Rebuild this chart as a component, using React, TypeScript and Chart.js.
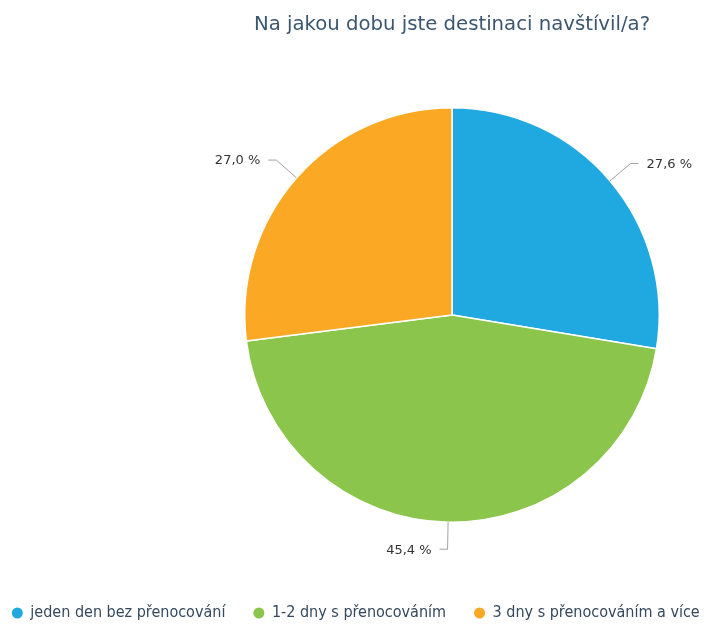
import React, { useEffect, useRef } from 'react';
import { Chart, registerables } from 'chart.js';

Chart.register(...registerables);

const TITLE = 'Na jakou dobu jste destinaci navštívil/a?';
const categories = ['jeden den bez přenocování', '1-2 dny s přenocováním', '3 dny s přenocováním a více'];
const values = [27.6, 45.4, 27.0];
const valueLabels = ['27,6 %', '45,4 %', '27,0 %'];
const colors = ['#20a9e1', '#8cc54b', '#fba925'];

const W = 704;
const H = 624;

const decorPlugin = {
  id: 'decor',
  afterDraw(chart: any) {
    const ctx = chart.ctx as CanvasRenderingContext2D;
    const area = chart.chartArea;
    ctx.save();

    // Title
    ctx.font = '19.7px "DejaVu Sans", sans-serif';
    ctx.fillStyle = '#3b566f';
    ctx.textAlign = 'center';
    ctx.textBaseline = 'middle';
    ctx.fillText(TITLE, (area.left + area.right) / 2, 25);

    // Slice labels with leader lines
    const meta = chart.getDatasetMeta(0);
    meta.data.forEach((arc: any, i: number) => {
      const p = arc.getProps(['x', 'y', 'startAngle', 'endAngle', 'outerRadius'], true);
      const mid = (p.startAngle + p.endAngle) / 2;
      const c = Math.cos(mid);
      const s = Math.sin(mid);
      const r = p.outerRadius;
      const x0 = p.x + c * r;
      const y0 = p.y + s * r;
      const x1 = p.x + c * (r + 27);
      const y1 = p.y + s * (r + 27);
      const dir = c >= 0 ? 1 : -1;
      const x2 = x1 + dir * 8;
      ctx.beginPath();
      ctx.moveTo(x0, y0);
      ctx.lineTo(x1, y1);
      ctx.lineTo(x2, y1);
      ctx.strokeStyle = '#a0a0a0';
      ctx.lineWidth = 1;
      ctx.lineJoin = 'round';
      ctx.stroke();
      ctx.font = '13px "DejaVu Sans", sans-serif';
      ctx.fillStyle = '#333333';
      ctx.textBaseline = 'middle';
      ctx.textAlign = dir > 0 ? 'left' : 'right';
      ctx.fillText(valueLabels[i], x2 + dir * 8, y1 + 1);
    });

    // Legend
    ctx.font = '16px "DejaVu Sans Condensed", "DejaVu Sans", sans-serif';
    const gap = 28.5;
    const widths = categories.map((t) => 10 + 8 + ctx.measureText(t).width);
    const total = widths.reduce((a, b) => a + b, 0) + gap * (categories.length - 1);
    let x = 356 - total / 2;
    const ly = 613;
    categories.forEach((t, i) => {
      ctx.beginPath();
      ctx.arc(x + 5, ly, 5.5, 0, Math.PI * 2);
      ctx.fillStyle = colors[i];
      ctx.fill();
      ctx.fillStyle = '#34495e';
      ctx.textAlign = 'left';
      ctx.textBaseline = 'middle';
      ctx.fillText(t, x + 18, ly);
      x += widths[i] + gap;
    });

    ctx.restore();
  },
};

export default function App() {
  const ref = useRef<HTMLCanvasElement | null>(null);

  useEffect(() => {
    if (!ref.current) return;
    const chart = new Chart(ref.current, {
      type: 'pie',
      data: {
        labels: categories,
        datasets: [
          {
            data: values,
            backgroundColor: colors,
            borderColor: '#ffffff',
            borderWidth: 1.5,
          },
        ],
      },
      options: {
        responsive: false,
        animation: false,
        layout: { padding: { left: 244, right: 44, top: 107, bottom: 101 } },
        plugins: {
          legend: { display: false },
          title: { display: false },
          tooltip: { enabled: false },
        },
      },
      plugins: [decorPlugin],
    });
    return () => chart.destroy();
  }, []);

  return (
    <div style={{ position: 'fixed', left: 0, top: 0, width: W, height: H, background: '#fff' }}>
      <canvas ref={ref} width={W} height={H} style={{ display: 'block', width: W, height: H }} />
    </div>
  );
}
